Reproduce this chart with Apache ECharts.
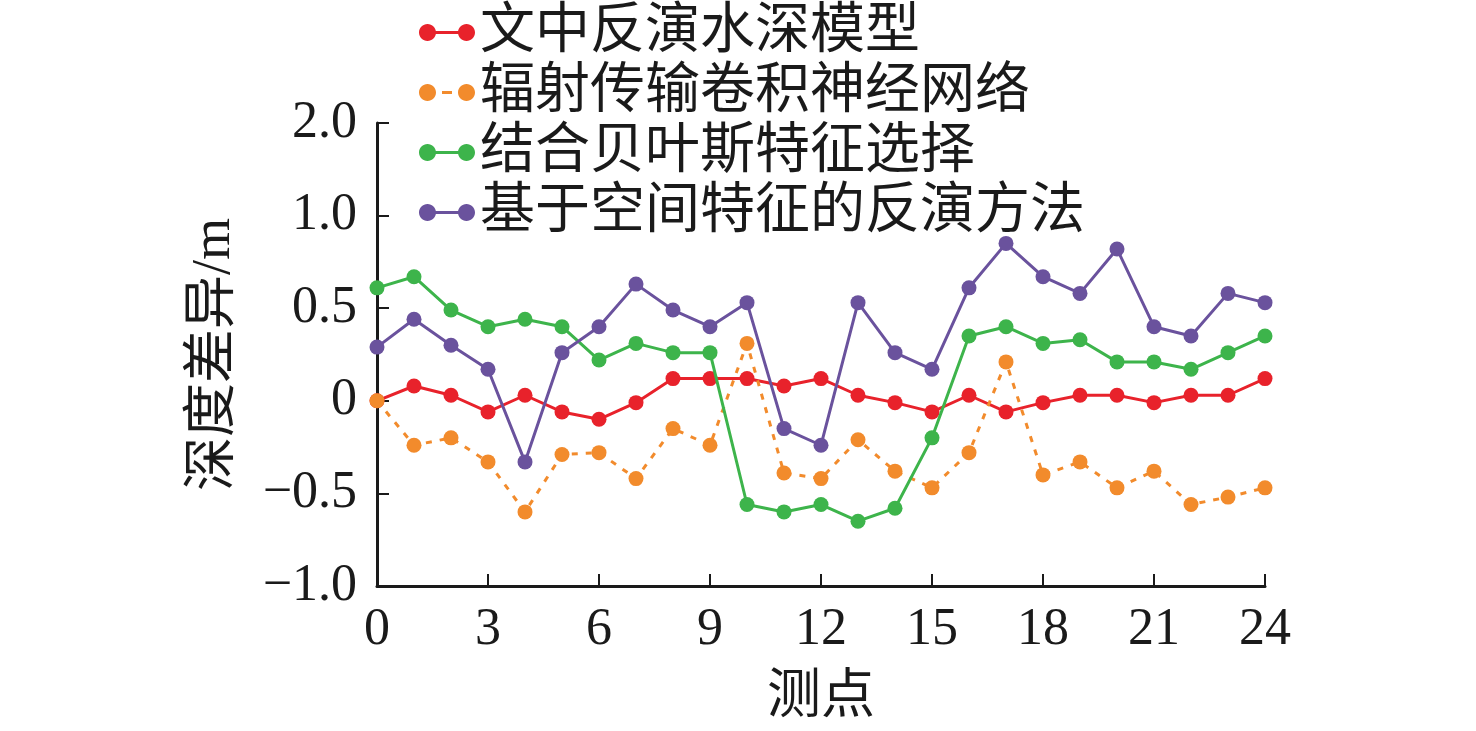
<!DOCTYPE html>
<html>
<head>
<meta charset="utf-8">
<script src="https://cdn.jsdelivr.net/npm/echarts@6/dist/echarts.min.js"></script>
<style>
html,body{margin:0;padding:0;background:#fff;}
#chart{width:1476px;height:731px;}
</style>
</head>
<body>
<div id="chart"></div>
<script>
const measurePoints = [0,1,2,3,4,5,6,7,8,9,10,11,12,13,14,15,16,17,18,19,20,21,22,23,24];
const seriesNames = ['文中反演水深模型','辐射传输卷积神经网络','结合贝叶斯特征选择','基于空间特征的反演方法'];
const redValues = [0, 0.08, 0.03, -0.06, 0.03, -0.06, -0.10, -0.01, 0.12, 0.12, 0.12, 0.08, 0.12, 0.03, -0.01, -0.06, 0.03, -0.06, -0.01, 0.03, 0.03, -0.01, 0.03, 0.03, 0.12];
const orangeValues = [0, -0.24, -0.20, -0.33, -0.60, -0.29, -0.28, -0.42, -0.15, -0.24, 0.31, -0.39, -0.42, -0.21, -0.38, -0.47, -0.28, 0.21, -0.40, -0.33, -0.47, -0.38, -0.56, -0.52, -0.47];
const greenValues = [0.61, 0.67, 0.49, 0.40, 0.44, 0.40, 0.22, 0.31, 0.26, 0.26, -0.56, -0.60, -0.56, -0.65, -0.58, -0.20, 0.35, 0.40, 0.31, 0.33, 0.21, 0.21, 0.17, 0.26, 0.35];
const purpleValues = [0.29, 0.44, 0.30, 0.17, -0.33, 0.26, 0.40, 0.63, 0.49, 0.40, 0.53, -0.15, -0.24, 0.53, 0.26, 0.17, 0.61, 0.85, 0.67, 0.58, 0.82, 0.40, 0.35, 0.58, 0.53];
const xTicks = [0, 3, 6, 9, 12, 15, 18, 21, 24];
const yTickValues = [-1, -0.5, 0, 0.5, 1, 1.5];
const yTickLabels = ['\u22121.0', '\u22120.5', '0', '0.5', '1.0', '2.0'];
const colors = ['#e8222b', '#f28b2c', '#3db44b', '#6a529d'];

const FONT = '"Liberation Serif", "Noto Sans CJK SC", serif';
const leftDot = 'M0,8.5 C0,3.806 3.806,0 8.5,0 C13.194,0 17,3.806 17,8.5 C17,13.194 13.194,17 8.5,17 C3.806,17 0,13.194 0,8.5 Z';
const rightDot = 'M39,8.5 C39,3.806 42.806,0 47.5,0 C52.194,0 56,3.806 56,8.5 C56,13.194 52.194,17 47.5,17 C42.806,17 39,13.194 39,8.5 Z';
const solidIcon = 'path://' + leftDot + ' ' + rightDot + ' M8,7 L48,7 L48,10 L8,10 Z';
const dashIcon = 'path://' + leftDot + ' ' + rightDot + ' M23,7 L33,7 L33,10 L23,10 Z';

function pairs(vals){ return measurePoints.map((x,i)=>[x, vals[i]]); }
const allValues = [redValues, orangeValues, greenValues, purpleValues];

const chart = echarts.init(document.getElementById('chart'), null, {renderer:'canvas'});
chart.setOption({
  animation: false,
  backgroundColor: '#ffffff',
  color: colors,
  textStyle: { fontFamily: FONT, color: '#1a1a1a' },
  legend: {
    orient: 'vertical',
    left: 414,
    top: 0,
    itemWidth: 56,
    itemHeight: 17,
    itemGap: 5,
    symbolKeepAspect: false,
    itemStyle: { borderWidth: 0 },
    textStyle: { fontFamily: FONT, fontSize: 55, lineHeight: 54, color: '#1a1a1a' },
    data: seriesNames.map((n, i) => ({ name: n, icon: i === 1 ? dashIcon : solidIcon }))
  },
  grid: { left: 377, right: 211, top: 123, bottom: 145, containLabel: false },
  xAxis: {
    type: 'value',
    min: 0, max: 24, interval: 3,
    name: '测点',
    nameLocation: 'middle',
    nameGap: 86,
    nameTextStyle: { fontFamily: FONT, fontSize: 54, color: '#1a1a1a' },
    axisLine: { show: true, onZero: false, lineStyle: { color: '#1a1a1a', width: 3 } },
    axisTick: { show: true, inside: true, length: 12, lineStyle: { color: '#1a1a1a', width: 2 } },
    axisLabel: { fontFamily: FONT, fontSize: 52, color: '#1a1a1a', margin: 18,
      formatter: v => xTicks.indexOf(v) >= 0 ? String(v) : '' },
    splitLine: { show: false }
  },
  yAxis: {
    type: 'value',
    min: -1, max: 1.5, interval: 0.5,
    name: '深度差异/m',
    nameLocation: 'middle',
    nameRotate: 90,
    nameGap: 135,
    nameTextStyle: { fontFamily: FONT, fontSize: 54, color: '#1a1a1a' },
    axisLine: { show: true, onZero: false, lineStyle: { color: '#1a1a1a', width: 3 } },
    axisTick: { show: true, inside: true, length: 12, lineStyle: { color: '#1a1a1a', width: 2 } },
    axisLabel: { fontFamily: FONT, fontSize: 52, color: '#1a1a1a', margin: 20,
      formatter: v => {
        const i = yTickValues.findIndex(t => Math.abs(t - v) < 1e-9);
        return i >= 0 ? yTickLabels[i] : '';
      } },
    splitLine: { show: false }
  },
  series: seriesNames.map((n, i) => ({
    name: n,
    type: 'line',
    data: pairs(allValues[i]),
    symbol: 'circle',
    symbolSize: 15,
    showSymbol: true,
    itemStyle: { color: colors[i] },
    lineStyle: { color: colors[i], width: 3, type: i === 1 ? [6, 8] : 'solid' },
    z: 2 + i
  }))
});
</script>
</body>
</html>
